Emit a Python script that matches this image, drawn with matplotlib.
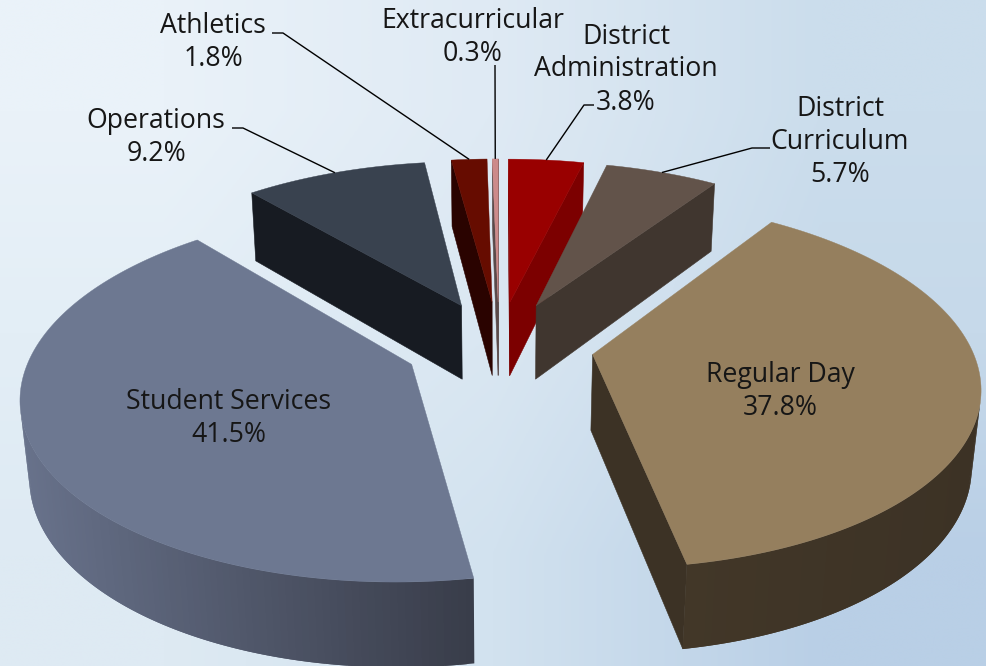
import numpy as np
import matplotlib
matplotlib.use("Agg")
import matplotlib.pyplot as plt
from matplotlib.colors import LinearSegmentedColormap, to_rgb
from matplotlib.patches import Polygon

plt.rcParams['font.family'] = ['Open Sans', 'DejaVu Sans']

# clockwise from twelve o'clock
names = ["District\nAdministration", "District\nCurriculum", "Regular Day", "Student Services",
         "Operations", "Athletics", "Extracurricular"]
shares = [3.8, 5.7, 37.8, 41.5, 9.2, 1.8, 0.3]
top_colors = ["#990000", "#62534A", "#957F5E", "#6D7891", "#39424F", "#660C00", "#CC8A8A"]
cut_colors = ["#7C0000", "#40362F", "#3C3225", "#393D4A", "#171B22", "#2A0300", "#5A4A4A"]
wall_left = ["#7C0000", "#40362F", "#423728", "#68728B", "#171B22", "#2A0300", "#5A4A4A"]
wall_right = ["#7C0000", "#40362F", "#3C3225", "#393D4A", "#171B22", "#2A0300", "#5A4A4A"]

# label centre and leader elbow, None when the label sits on the slice
label_xy = [(626, 67), (840, 139.5), (780, 389), (229, 416), (156, 135), (213, 40), (473, 35)]
elbows = [(584, 105), (752, 148), None, None, (243, 128), (283, 33), (495, 65)]
leader_from = [(594, 105), (770, 148), None, None, (232, 128), (272, 33), None]
LINE_STEP = 33

# pie geometry and camera
CX, CY = 499, 345
RADIUS = 378
EXPLODE = 95
HEIGHT = 87
TILT = np.radians(28)
DIST = 2160


def project(x, y, z):
    v = y * np.sin(TILT) + z * np.cos(TILT)
    w = y * np.cos(TILT) - z * np.sin(TILT)
    s = DIST / (DIST + w)
    return CX + x * s, CY - v * s


cam = np.array([0, -DIST * np.cos(TILT)])


def faces_camera(point, normal):
    return np.dot(cam - point, normal) > 0


def quad(a, b):
    # wall between two floor points a, b running from z=0 to z=-HEIGHT
    pts = [(a[0], a[1], 0), (b[0], b[1], 0), (b[0], b[1], -HEIGHT), (a[0], a[1], -HEIGHT)]
    return [project(*p) for p in pts]


fig = plt.figure(figsize=(9.87, 6.66), dpi=100)
ax = fig.add_axes([0, 0, 1, 1])
ax.axis("off")

# background wash, pale at the upper left and bluer toward the lower right
wash = np.array([[to_rgb("#EAF2F9"), to_rgb("#DFEAF4"), to_rgb("#CBDDEC")],
                 [to_rgb("#E3EEF6"), to_rgb("#DAE7F2"), to_rgb("#C6D9EA")],
                 [to_rgb("#DEEAF3"), to_rgb("#D2E2EF"), to_rgb("#B9CFE6")]])
ax.imshow(wash, extent=(0, 987, 666, 0), interpolation="bilinear", aspect="auto", zorder=0)
ax.set_xlim(0, 987)
ax.set_ylim(666, 0)

fractions = np.array(shares) / np.sum(shares)
edges = np.concatenate([[0], np.cumsum(fractions) * 2 * np.pi])

slices = []
for i in range(len(shares)):
    t0, t1 = edges[i], edges[i + 1]
    mid = (t0 + t1) / 2
    apex = EXPLODE * np.array([np.sin(mid), np.cos(mid)])
    slices.append((i, t0, t1, mid, apex))

# far slices first
slices.sort(key=lambda s: -(s[4][1] + RADIUS * 0.6 * np.cos(s[3])))

zo = 2
for i, t0, t1, mid, apex in slices:
    theta = np.linspace(t0, t1, max(6, int((t1 - t0) * 60)))
    rim = apex + RADIUS * np.column_stack([np.sin(theta), np.cos(theta)])

    # the two cut faces
    n_start = np.array([np.sin(t0 - np.pi / 2), np.cos(t0 - np.pi / 2)])
    n_end = np.array([np.sin(t1 + np.pi / 2), np.cos(t1 + np.pi / 2)])
    if faces_camera(apex, n_start):
        ax.add_patch(Polygon(quad(apex, rim[0]), closed=True, fc=cut_colors[i], ec=cut_colors[i], lw=0.4, zorder=zo))
        zo += 1
    if faces_camera(apex, n_end):
        ax.add_patch(Polygon(quad(apex, rim[-1]), closed=True, fc=cut_colors[i], ec=cut_colors[i], lw=0.4, zorder=zo))
        zo += 1

    # outer wall in narrow overlapping strips, shaded across the screen
    shade = LinearSegmentedColormap.from_list("wall", [wall_left[i], wall_right[i]])
    xs = project(rim[:, 0], rim[:, 1], 0)[0]
    x_lo, x_hi = xs.min(), xs.max()
    for j in range(len(rim) - 1):
        tm = (theta[j] + theta[j + 1]) / 2
        normal = np.array([np.sin(tm), np.cos(tm)])
        if not faces_camera(rim[j], normal):
            continue
        c = shade((xs[j] - x_lo) / max(x_hi - x_lo, 1))
        ax.add_patch(Polygon(quad(rim[j], rim[min(j + 2, len(rim) - 1)]), closed=True, fc=c, ec="none", zorder=zo))
        zo += 0.001
    zo = int(zo) + 1

    outline = np.vstack([apex, rim])
    px, py = project(outline[:, 0], outline[:, 1], 0)
    ax.add_patch(Polygon(np.column_stack([px, py]), closed=True, fc=top_colors[i], ec=top_colors[i],
                         lw=0.3, zorder=zo))
    zo += 1

    # leader line to the middle of the rim
    if elbows[i] is not None:
        end = apex + RADIUS * np.array([np.sin(mid), np.cos(mid)])
        ex, ey = project(end[0], end[1], 0)
        path = [elbows[i], (ex, ey)]
        if leader_from[i] is not None:
            path.insert(0, leader_from[i])
        ax.plot(*zip(*path), color="black", lw=1.0, zorder=100, solid_capstyle="butt")

# each label line is its own text so the rows keep an even step
for name, share, (lx, ly) in zip(names, shares, label_xy):
    rows = name.split("\n") + [f"{share}%"]
    for k, row in enumerate(rows):
        baseline = ly + (k - (len(rows) - 1) / 2) * LINE_STEP + 9.5
        ax.text(lx, baseline, row, ha="center", va="baseline", fontsize=19.2, color="#161616", zorder=101)

fig.savefig("out.png", dpi=100)
